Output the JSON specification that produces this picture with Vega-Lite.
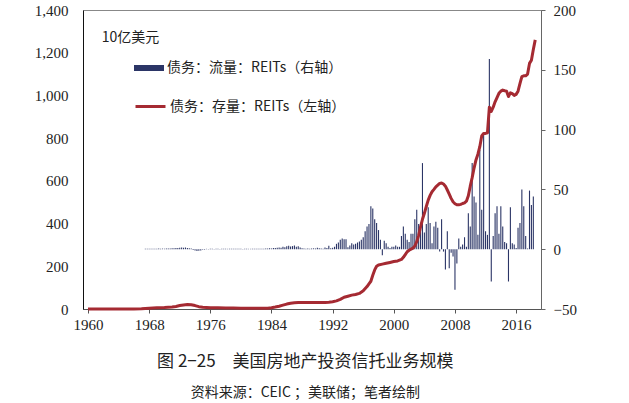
{
  "$schema": "https://vega.github.io/schema/vega-lite/v6.json",
  "width": 458,
  "height": 299,
  "autosize": {"type": "none"},
  "padding": {"left": 83, "top": 10, "right": 88, "bottom": 94},
  "background": "#ffffff",
  "config": {
    "view": {"stroke": "#888888", "strokeWidth": 1},
    "axis": {"labelFont": "Liberation Serif", "labelFontSize": 14, "labelColor": "#222222", "grid": false, "title": null}
  },
  "title": {
    "text": "图 2−25　美国房地产投资信托业务规模",
    "subtitle": "资料来源：CEIC ；美联储；笔者绘制",
    "orient": "bottom",
    "anchor": "middle",
    "frame": "bounds",
    "font": "Noto Sans CJK SC",
    "fontSize": 17,
    "fontWeight": "normal",
    "color": "#222222",
    "subtitleFont": "Noto Sans CJK SC",
    "subtitleFontSize": 14,
    "subtitleColor": "#222222",
    "offset": 22,
    "subtitlePadding": 15
  },
  "datasets": {
    "flow": [
      {"t": 1967.5, "flow": 0.3}, {"t": 1967.75, "flow": 0.3}, {"t": 1968.0, "flow": 0.3}, {"t": 1968.25, "flow": 0.4},
      {"t": 1968.5, "flow": 0.3}, {"t": 1968.75, "flow": 0.4}, {"t": 1969.0, "flow": 0.4}, {"t": 1969.25, "flow": 0.5},
      {"t": 1969.5, "flow": 0.4}, {"t": 1969.75, "flow": 0.5}, {"t": 1970.0, "flow": 0.4}, {"t": 1970.25, "flow": 0.5},
      {"t": 1970.5, "flow": 0.6}, {"t": 1970.75, "flow": 0.5}, {"t": 1971.0, "flow": 0.7}, {"t": 1971.25, "flow": 0.8},
      {"t": 1971.5, "flow": 0.9}, {"t": 1971.75, "flow": 1.0}, {"t": 1972.0, "flow": 1.3}, {"t": 1972.25, "flow": 1.5},
      {"t": 1972.5, "flow": 1.2}, {"t": 1972.75, "flow": 1.4}, {"t": 1973.0, "flow": 1.0}, {"t": 1973.25, "flow": 0.8},
      {"t": 1973.5, "flow": 0.5}, {"t": 1973.75, "flow": -0.6}, {"t": 1974.0, "flow": -1.0}, {"t": 1974.25, "flow": -1.6},
      {"t": 1974.5, "flow": -1.3}, {"t": 1974.75, "flow": -1.0}, {"t": 1975.0, "flow": -0.5}, {"t": 1975.25, "flow": -0.4},
      {"t": 1975.5, "flow": 0.3}, {"t": 1975.75, "flow": -0.3}, {"t": 1976.0, "flow": 0.3}, {"t": 1976.25, "flow": 0.4},
      {"t": 1976.5, "flow": -0.3}, {"t": 1976.75, "flow": 0.3}, {"t": 1977.0, "flow": 0.3}, {"t": 1977.25, "flow": 0.2},
      {"t": 1977.5, "flow": 0.3}, {"t": 1977.75, "flow": 0.3}, {"t": 1978.0, "flow": 0.4}, {"t": 1978.25, "flow": 0.3},
      {"t": 1978.5, "flow": 0.3}, {"t": 1978.75, "flow": 0.4}, {"t": 1979.0, "flow": 0.3}, {"t": 1979.25, "flow": 0.3},
      {"t": 1979.5, "flow": 0.4}, {"t": 1979.75, "flow": 0.3}, {"t": 1980.0, "flow": 0.3}, {"t": 1980.25, "flow": 0.2},
      {"t": 1980.5, "flow": 0.3}, {"t": 1980.75, "flow": 0.4}, {"t": 1981.0, "flow": 0.3}, {"t": 1981.25, "flow": 0.3},
      {"t": 1981.5, "flow": 0.4}, {"t": 1981.75, "flow": 0.3}, {"t": 1982.0, "flow": 0.3}, {"t": 1982.25, "flow": 0.4},
      {"t": 1982.5, "flow": 0.3}, {"t": 1982.75, "flow": 0.4}, {"t": 1983.0, "flow": 0.4}, {"t": 1983.25, "flow": 0.5},
      {"t": 1983.5, "flow": 0.6}, {"t": 1983.75, "flow": 0.8}, {"t": 1984.0, "flow": 0.6}, {"t": 1984.25, "flow": 0.9},
      {"t": 1984.5, "flow": 1.0}, {"t": 1984.75, "flow": 1.2}, {"t": 1985.0, "flow": 1.5}, {"t": 1985.25, "flow": 1.3},
      {"t": 1985.5, "flow": 2.0}, {"t": 1985.75, "flow": 1.6}, {"t": 1986.0, "flow": 2.4}, {"t": 1986.25, "flow": 2.8},
      {"t": 1986.5, "flow": 2.2}, {"t": 1986.75, "flow": 2.6}, {"t": 1987.0, "flow": 3.0}, {"t": 1987.25, "flow": 2.0},
      {"t": 1987.5, "flow": 2.5}, {"t": 1987.75, "flow": 1.5}, {"t": 1988.0, "flow": 0.8}, {"t": 1988.25, "flow": 0.5},
      {"t": 1988.5, "flow": 0.4}, {"t": 1988.75, "flow": 0.6}, {"t": 1989.0, "flow": 0.4}, {"t": 1989.25, "flow": 0.5},
      {"t": 1989.5, "flow": 0.7}, {"t": 1989.75, "flow": 0.5}, {"t": 1990.0, "flow": 1.2}, {"t": 1990.25, "flow": 0.8},
      {"t": 1990.5, "flow": 0.5}, {"t": 1990.75, "flow": 0.4}, {"t": 1991.0, "flow": 1.5}, {"t": 1991.25, "flow": 1.0},
      {"t": 1991.5, "flow": 2.8}, {"t": 1991.75, "flow": 0.8}, {"t": 1992.0, "flow": 1.2}, {"t": 1992.25, "flow": 2.0},
      {"t": 1992.5, "flow": 4.5}, {"t": 1992.75, "flow": 5.6}, {"t": 1993.0, "flow": 8}, {"t": 1993.25, "flow": 9},
      {"t": 1993.5, "flow": 8.4}, {"t": 1993.75, "flow": 8.4}, {"t": 1994.0, "flow": 1.7}, {"t": 1994.25, "flow": 3},
      {"t": 1994.5, "flow": 5}, {"t": 1994.75, "flow": 4}, {"t": 1995.0, "flow": 4.5}, {"t": 1995.25, "flow": 5.6},
      {"t": 1995.5, "flow": 6.5}, {"t": 1995.75, "flow": 8}, {"t": 1996.0, "flow": 10}, {"t": 1996.25, "flow": 15},
      {"t": 1996.5, "flow": 19}, {"t": 1996.75, "flow": 21}, {"t": 1997.0, "flow": 36}, {"t": 1997.25, "flow": 34},
      {"t": 1997.5, "flow": 25}, {"t": 1997.75, "flow": 22}, {"t": 1998.0, "flow": 16}, {"t": 1998.25, "flow": 8},
      {"t": 1998.5, "flow": -5}, {"t": 1998.75, "flow": 7}, {"t": 1999.0, "flow": 5}, {"t": 1999.25, "flow": 2},
      {"t": 1999.5, "flow": 1}, {"t": 1999.75, "flow": 2}, {"t": 2000.0, "flow": 2}, {"t": 2000.25, "flow": 3},
      {"t": 2000.5, "flow": 2}, {"t": 2000.75, "flow": 2}, {"t": 2001.0, "flow": 11}, {"t": 2001.25, "flow": 19},
      {"t": 2001.5, "flow": 13}, {"t": 2001.75, "flow": 8}, {"t": 2002.0, "flow": 6}, {"t": 2002.25, "flow": 13},
      {"t": 2002.5, "flow": 13}, {"t": 2002.75, "flow": 25}, {"t": 2003.0, "flow": 33}, {"t": 2003.25, "flow": 21},
      {"t": 2003.5, "flow": 20}, {"t": 2003.75, "flow": 72}, {"t": 2004.0, "flow": 14}, {"t": 2004.25, "flow": 21},
      {"t": 2004.5, "flow": 35}, {"t": 2004.75, "flow": 22}, {"t": 2005.0, "flow": 5}, {"t": 2005.25, "flow": 19},
      {"t": 2005.5, "flow": 23}, {"t": 2005.75, "flow": 18}, {"t": 2006.0, "flow": -2}, {"t": 2006.25, "flow": 25},
      {"t": 2006.5, "flow": -2}, {"t": 2006.75, "flow": -17}, {"t": 2007.0, "flow": 15}, {"t": 2007.25, "flow": -16},
      {"t": 2007.5, "flow": -3}, {"t": 2007.75, "flow": -6}, {"t": 2008.0, "flow": -34}, {"t": 2008.25, "flow": -12},
      {"t": 2008.5, "flow": 9}, {"t": 2008.75, "flow": 2}, {"t": 2009.0, "flow": 4}, {"t": 2009.25, "flow": 10},
      {"t": 2009.5, "flow": 2}, {"t": 2009.75, "flow": 30}, {"t": 2010.0, "flow": 19}, {"t": 2010.25, "flow": 72},
      {"t": 2010.5, "flow": 44}, {"t": 2010.75, "flow": 39}, {"t": 2011.0, "flow": 12}, {"t": 2011.25, "flow": 83},
      {"t": 2011.5, "flow": 33}, {"t": 2011.75, "flow": 96}, {"t": 2012.0, "flow": 15}, {"t": 2012.25, "flow": 12},
      {"t": 2012.5, "flow": 159}, {"t": 2012.75, "flow": -27}, {"t": 2013.0, "flow": 11}, {"t": 2013.25, "flow": 30},
      {"t": 2013.5, "flow": 36}, {"t": 2013.75, "flow": 13}, {"t": 2014.0, "flow": 36}, {"t": 2014.25, "flow": 19},
      {"t": 2014.5, "flow": 6}, {"t": 2014.75, "flow": 5}, {"t": 2015.0, "flow": -27}, {"t": 2015.25, "flow": 35},
      {"t": 2015.5, "flow": 5}, {"t": 2015.75, "flow": 4}, {"t": 2016.0, "flow": 1}, {"t": 2016.25, "flow": 18},
      {"t": 2016.5, "flow": 22}, {"t": 2016.75, "flow": 50}, {"t": 2017.0, "flow": 36}, {"t": 2017.25, "flow": 11},
      {"t": 2017.5, "flow": 0.5}, {"t": 2017.75, "flow": 49}, {"t": 2018.0, "flow": 37}, {"t": 2018.25, "flow": 44}
    ],
    "stock": [
      {"t": 1960.0, "stock": 0}, {"t": 1962.0, "stock": 0}, {"t": 1964.0, "stock": 0}, {"t": 1966.0, "stock": 0},
      {"t": 1967.0, "stock": 1}, {"t": 1968.0, "stock": 4}, {"t": 1969.0, "stock": 6}, {"t": 1970.0, "stock": 7},
      {"t": 1971.0, "stock": 9}, {"t": 1971.5, "stock": 12}, {"t": 1972.0, "stock": 16}, {"t": 1972.5, "stock": 19},
      {"t": 1973.0, "stock": 21}, {"t": 1973.5, "stock": 20}, {"t": 1974.0, "stock": 16}, {"t": 1974.5, "stock": 11},
      {"t": 1975.0, "stock": 8}, {"t": 1976.0, "stock": 6}, {"t": 1977.0, "stock": 6}, {"t": 1978.0, "stock": 5},
      {"t": 1979.0, "stock": 5}, {"t": 1980.0, "stock": 4}, {"t": 1981.0, "stock": 4}, {"t": 1982.0, "stock": 3},
      {"t": 1983.0, "stock": 3}, {"t": 1983.5, "stock": 4}, {"t": 1984.0, "stock": 6}, {"t": 1984.5, "stock": 9},
      {"t": 1985.0, "stock": 13}, {"t": 1985.5, "stock": 18}, {"t": 1986.0, "stock": 23}, {"t": 1986.5, "stock": 27},
      {"t": 1987.0, "stock": 29}, {"t": 1987.5, "stock": 30}, {"t": 1988.0, "stock": 30}, {"t": 1989.0, "stock": 30},
      {"t": 1990.0, "stock": 31}, {"t": 1991.0, "stock": 31}, {"t": 1991.5, "stock": 32}, {"t": 1992.0, "stock": 34},
      {"t": 1992.5, "stock": 38}, {"t": 1993.0, "stock": 45}, {"t": 1993.5, "stock": 55}, {"t": 1994.0, "stock": 60},
      {"t": 1994.5, "stock": 65}, {"t": 1995.0, "stock": 68}, {"t": 1995.5, "stock": 73}, {"t": 1996.0, "stock": 85},
      {"t": 1996.5, "stock": 105}, {"t": 1996.75, "stock": 118}, {"t": 1997.0, "stock": 130}, {"t": 1997.25, "stock": 158},
      {"t": 1997.5, "stock": 183}, {"t": 1997.75, "stock": 200}, {"t": 1998.0, "stock": 206}, {"t": 1998.5, "stock": 210},
      {"t": 1999.0, "stock": 214}, {"t": 1999.5, "stock": 218}, {"t": 2000.0, "stock": 222}, {"t": 2000.5, "stock": 225},
      {"t": 2001.0, "stock": 232}, {"t": 2001.25, "stock": 242}, {"t": 2001.5, "stock": 255}, {"t": 2001.75, "stock": 268},
      {"t": 2002.0, "stock": 275}, {"t": 2002.5, "stock": 285}, {"t": 2002.75, "stock": 295}, {"t": 2003.0, "stock": 315},
      {"t": 2003.25, "stock": 345}, {"t": 2003.5, "stock": 385}, {"t": 2003.75, "stock": 420}, {"t": 2004.0, "stock": 448},
      {"t": 2004.25, "stock": 480}, {"t": 2004.5, "stock": 510}, {"t": 2004.75, "stock": 532}, {"t": 2005.0, "stock": 549},
      {"t": 2005.25, "stock": 560}, {"t": 2005.5, "stock": 572}, {"t": 2005.75, "stock": 580}, {"t": 2006.0, "stock": 588},
      {"t": 2006.25, "stock": 590}, {"t": 2006.5, "stock": 585}, {"t": 2006.75, "stock": 575}, {"t": 2007.0, "stock": 557},
      {"t": 2007.25, "stock": 538}, {"t": 2007.5, "stock": 518}, {"t": 2007.75, "stock": 502}, {"t": 2008.0, "stock": 493},
      {"t": 2008.25, "stock": 488}, {"t": 2008.5, "stock": 488}, {"t": 2008.75, "stock": 490}, {"t": 2009.0, "stock": 494},
      {"t": 2009.25, "stock": 497}, {"t": 2009.5, "stock": 505}, {"t": 2009.75, "stock": 530}, {"t": 2010.0, "stock": 575},
      {"t": 2010.25, "stock": 615}, {"t": 2010.5, "stock": 660}, {"t": 2010.75, "stock": 698}, {"t": 2011.0, "stock": 725},
      {"t": 2011.25, "stock": 760}, {"t": 2011.5, "stock": 810}, {"t": 2011.75, "stock": 822}, {"t": 2012.0, "stock": 822},
      {"t": 2012.25, "stock": 825}, {"t": 2012.5, "stock": 945}, {"t": 2012.75, "stock": 925}, {"t": 2013.0, "stock": 945},
      {"t": 2013.25, "stock": 970}, {"t": 2013.5, "stock": 990}, {"t": 2013.75, "stock": 1010}, {"t": 2014.0, "stock": 1020},
      {"t": 2014.25, "stock": 1025}, {"t": 2014.5, "stock": 1022}, {"t": 2014.75, "stock": 1020}, {"t": 2015.0, "stock": 995},
      {"t": 2015.25, "stock": 1012}, {"t": 2015.5, "stock": 1008}, {"t": 2015.75, "stock": 1000}, {"t": 2016.0, "stock": 1005},
      {"t": 2016.25, "stock": 1020}, {"t": 2016.5, "stock": 1055}, {"t": 2016.75, "stock": 1088}, {"t": 2017.0, "stock": 1092},
      {"t": 2017.25, "stock": 1092}, {"t": 2017.5, "stock": 1100}, {"t": 2017.75, "stock": 1150}, {"t": 2018.0, "stock": 1165},
      {"t": 2018.25, "stock": 1215}, {"t": 2018.5, "stock": 1260}
    ]
  },
  "layer": [
    {
      "data": {"name": "flow"},
      "mark": {"type": "bar", "width": 1.1},
      "encoding": {
        "x": {
          "field": "t", "type": "quantitative",
          "scale": {"domain": [1960, 2018.6], "nice": false, "zero": false},
          "axis": {"orient": "bottom", "values": [1960, 1968, 1976, 1984, 1992, 2000, 2008, 2016], "format": "d",
                   "labelFont": "Liberation Serif", "labelFontSize": 15,
                   "domainColor": "#555555", "tickColor": "#555555", "tickSize": 4, "labelPadding": 4, "labelFlush": false}
        },
        "y": {
          "field": "flow", "type": "quantitative",
          "scale": {"domain": [-50, 200], "nice": false},
          "axis": {"orient": "right", "values": [-50, 0, 50, 100, 150, 200], "format": "d",
                   "labelFont": "Liberation Serif", "labelFontSize": 15,
                   "domainColor": "#666666", "tickColor": "#666666", "tickSize": 4, "labelPadding": 8}
        },
        "fill": {
          "datum": "债务：流量：REITs（右轴）", "type": "nominal",
          "scale": {"range": ["#2b3566"]},
          "legend": {"orient": "none", "legendX": 51, "legendY": 43, "title": null, "padding": 0,
                     "symbolType": "M-1,-0.2H1V0.2H-1Z", "symbolSize": 900, "symbolStrokeWidth": 0,
                     "labelFont": "Noto Sans CJK SC", "labelFontSize": 14, "labelColor": "#222222", "labelOffset": 3, "labelLimit": 400}
        }
      }
    },
    {
      "data": {"name": "stock"},
      "mark": {"type": "line", "strokeWidth": 3, "strokeJoin": "round"},
      "encoding": {
        "x": {"field": "t", "type": "quantitative"},
        "y": {
          "field": "stock", "type": "quantitative",
          "scale": {"domain": [0, 1400], "nice": false},
          "axis": {"orient": "left", "values": [0, 200, 400, 600, 800, 1000, 1200, 1400], "format": ",d",
                   "labelFont": "Liberation Serif", "labelFontSize": 15,
                   "domainColor": "#111111", "ticks": false, "tickSize": 0, "labelPadding": 15}
        },
        "stroke": {
          "datum": "债务：存量：REITs（左轴）", "type": "nominal",
          "scale": {"range": ["#a52a32"]},
          "legend": {"orient": "none", "legendX": 51, "legendY": 80, "title": null, "padding": 0,
                     "symbolType": "stroke", "symbolSize": 900, "symbolStrokeWidth": 3,
                     "labelFont": "Noto Sans CJK SC", "labelFontSize": 14, "labelColor": "#222222", "labelOffset": 3, "labelLimit": 400}
        }
      }
    },
    {
      "data": {"values": [{"label": "10亿美元"}]},
      "mark": {"type": "text", "align": "left", "baseline": "middle", "font": "Noto Sans CJK SC", "fontSize": 14, "color": "#222222"},
      "encoding": {
        "x": {"datum": 1961.8, "type": "quantitative"},
        "y": {"datum": 1269, "type": "quantitative", "scale": {"domain": [0, 1400], "nice": false}, "axis": null},
        "text": {"field": "label"}
      }
    }
  ],
  "resolve": {"scale": {"y": "independent", "fill": "independent", "stroke": "independent"}}
}
